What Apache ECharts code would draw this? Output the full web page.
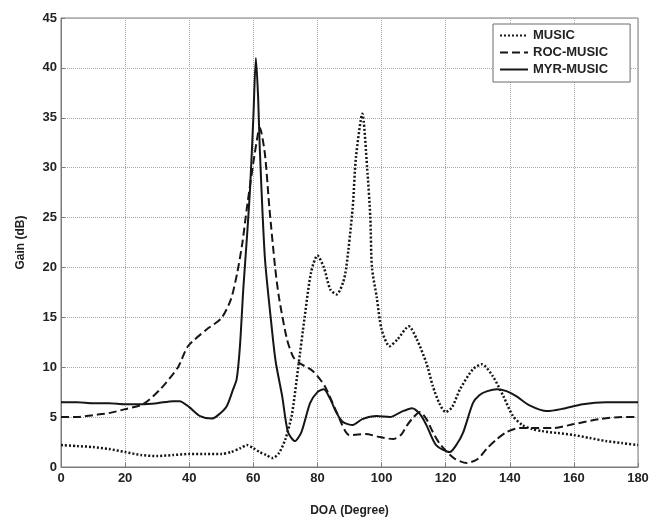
<!DOCTYPE html>
<html>
<head>
<meta charset="utf-8">
<script src="https://cdn.jsdelivr.net/npm/echarts@6/dist/echarts.min.js"></script>
<style>
  html, body { margin: 0; padding: 0; background: #fff; }
  #chart { width: 661px; height: 522px; }
</style>
</head>
<body>
<div id="chart"></div>
<script>
// DOA (deg) / gain (dB)
const musicX = [0,5,10,15,20,25,30,35,40,45,50,53,56,58,60,62,64,66,68,70,72,74,76,78,80,82,84,86,88,89,91,92,94,95.5,96.5,97,98.5,100,102.5,105,108.5,111,114,116,118,120,122,124.5,128.5,131.3,134.7,138,141,144,147,150,155,160,165,170,175,180];
const musicY = [2.2,2.1,2.0,1.8,1.5,1.2,1.1,1.2,1.3,1.3,1.3,1.5,1.9,2.2,1.9,1.5,1.2,0.9,1.4,2.8,5.2,10,15,19.5,21.2,20,17.8,17.3,18.5,20,26,31,35.4,30,25,20,17,13.8,12.1,12.8,14.1,12.8,10.4,8.1,6.4,5.5,6.0,7.8,9.8,10.3,9.1,7.1,5.1,4.2,3.8,3.6,3.4,3.2,2.9,2.6,2.4,2.2];

const rocX = [0,5,10,15,20,25.6,31,36.5,39.6,45.5,50,53,55,56.6,58,60,61.5,62,63.6,65,66.8,68,70.5,72.5,74.5,78.6,82.3,86,90,95,99.5,103.6,106,108,110,112,114,116,118,120.4,123,126.6,130,133,136,139,143,148,153.4,160,168,175,180];
const rocY = [5.0,5.0,5.2,5.4,5.8,6.3,7.8,10,12.1,13.8,14.9,16.8,19.5,22.5,26,30.5,33.5,34,31.4,26,20,17,12.8,11,10.4,9.6,8.1,5.5,3.2,3.3,3.0,2.8,3.2,4.2,5.0,5.5,4.8,3.5,2.4,1.5,0.8,0.4,0.8,1.9,2.8,3.5,3.9,3.9,3.9,4.3,4.8,5.0,5.0];

const myrX = [0,5,10,15,20,25,30,35,37,40,43.4,47,49,51.7,53.7,54.8,55.8,56.9,58,59,60,60.8,61.5,62,63.6,65.8,67,69,70.8,73,75,77.7,80,82,84,86,88,91,94,98.5,102.6,106,109.5,112,114,117,121.3,123.5,125.5,128.5,130.5,133,136,139,142,146,151.6,156,162.8,170,180];
const myrY = [6.5,6.5,6.4,6.4,6.3,6.3,6.4,6.6,6.6,6.0,5.1,4.85,5.2,6.1,7.8,8.8,12,18,23,28,35,41,37,32,21,13.8,10.5,7.1,3.5,2.6,3.5,6.4,7.5,7.8,6.8,5.4,4.5,4.2,4.8,5.1,5.0,5.5,5.9,5.3,4.2,2.2,1.5,2.3,3.5,6.4,7.2,7.6,7.8,7.6,7.1,6.2,5.6,5.8,6.3,6.5,6.5];

const seriesNames = ['MUSIC', 'ROC-MUSIC', 'MYR-MUSIC'];

const pairs = (xs, ys) => xs.map((x, i) => [x, ys[i]]);

const FONT = '"Liberation Sans", Arial, sans-serif';
const INK = '#161616';

var chart = echarts.init(document.getElementById('chart'));
chart.setOption({
  animation: false,
  backgroundColor: '#fff',
  grid: {
    left: 61, right: 23, top: 18, bottom: 50,
    show: true, borderColor: '#7a7a7a', borderWidth: 1
  },
  legend: {
    orient: 'vertical',
    left: 493,
    top: 24,
    padding: [5, 22, 6, 6],
    itemGap: 4,
    itemWidth: 28,
    itemHeight: 14,
    backgroundColor: '#fff',
    borderColor: '#6a6a6a',
    borderWidth: 1,
    itemStyle: { opacity: 0 },
    textStyle: { fontFamily: FONT, fontWeight: 'bold', fontSize: 13, color: '#222' },
    data: seriesNames
  },
  xAxis: {
    type: 'value',
    min: 0, max: 180, interval: 20,
    name: 'DOA (Degree)',
    nameLocation: 'middle',
    nameGap: 38,
    nameTextStyle: { fontFamily: FONT, fontWeight: 'bold', fontSize: 12, color: '#222' },
    axisLine: { lineStyle: { color: '#7a7a7a' } },
    axisTick: { inside: true, length: 4, lineStyle: { color: '#7a7a7a' } },
    axisLabel: { margin: 5, fontFamily: FONT, fontWeight: 'bold', fontSize: 13, color: '#222' },
    splitLine: { show: true, lineStyle: { type: 'dotted', color: '#a8a8a8' } }
  },
  yAxis: {
    type: 'value',
    min: 0, max: 45, interval: 5,
    name: 'Gain (dB)',
    nameLocation: 'middle',
    nameGap: 34,
    nameTextStyle: { fontFamily: FONT, fontWeight: 'bold', fontSize: 12, color: '#222' },
    axisLine: { lineStyle: { color: '#7a7a7a' } },
    axisTick: { inside: true, length: 4, lineStyle: { color: '#7a7a7a' } },
    axisLabel: { margin: 4, fontFamily: FONT, fontWeight: 'bold', fontSize: 13, color: '#222' },
    splitLine: { show: true, lineStyle: { type: 'dotted', color: '#a8a8a8' } }
  },
  series: [
    {
      name: seriesNames[0], type: 'line', symbol: 'none', smooth: 0.25,
      data: pairs(musicX, musicY),
      lineStyle: { color: INK, width: 2.5, type: [2, 2], cap: 'butt' },
      itemStyle: { color: INK }
    },
    {
      name: seriesNames[1], type: 'line', symbol: 'none', smooth: 0.25,
      data: pairs(rocX, rocY),
      lineStyle: { color: INK, width: 2, type: [8, 4] },
      itemStyle: { color: INK }
    },
    {
      name: seriesNames[2], type: 'line', symbol: 'none', smooth: 0.25,
      data: pairs(myrX, myrY),
      lineStyle: { color: INK, width: 2, type: 'solid' },
      itemStyle: { color: INK }
    }
  ]
});
</script>
</body>
</html>
